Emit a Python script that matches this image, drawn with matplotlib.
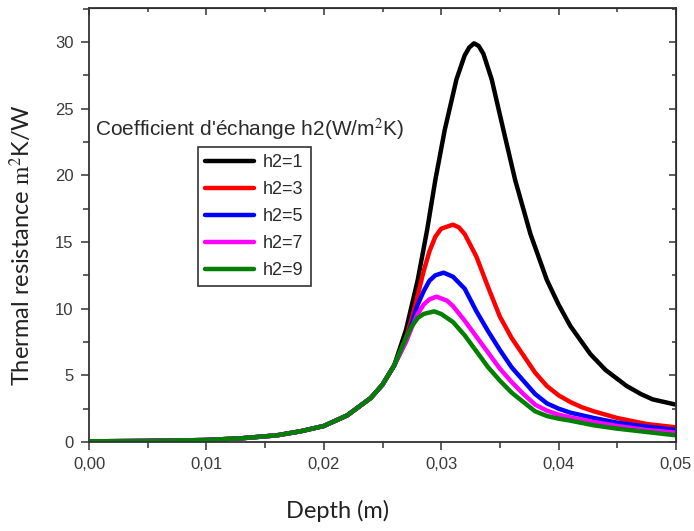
import numpy as np
import matplotlib
matplotlib.use("Agg")
import matplotlib.pyplot as plt
from matplotlib.ticker import MultipleLocator, FuncFormatter

plt.rcParams["mathtext.fontset"] = "stix"

# shared rising part (all curves sit on top of each other here)
base_x = [0.000, 0.005, 0.010, 0.013, 0.016, 0.018, 0.020, 0.022, 0.024, 0.025, 0.026]
base_y = [0.05, 0.08, 0.15, 0.28, 0.50, 0.80, 1.20, 2.00, 3.30, 4.30, 5.75]

# h2 = 1
x1 = [0.027, 0.028, 0.0288, 0.0295, 0.0303, 0.0313, 0.032, 0.0324, 0.0328, 0.0332, 0.0336,
      0.0343, 0.0353, 0.0363, 0.0376, 0.039, 0.040, 0.041, 0.0427, 0.044, 0.0458, 0.047,
      0.048, 0.049, 0.050]
y1 = [8.4, 12.15, 15.9, 19.65, 23.4, 27.2, 29.0, 29.6, 29.9, 29.7, 29.1,
      27.2, 23.4, 19.65, 15.6, 12.15, 10.3, 8.7, 6.6, 5.4, 4.2, 3.6,
      3.2, 3.0, 2.8]
# h2 = 3
x3 = [0.027, 0.0276, 0.028, 0.0285, 0.029, 0.0295, 0.030, 0.031, 0.0315, 0.032, 0.033, 0.034,
      0.035, 0.036, 0.037, 0.038, 0.039, 0.040, 0.041, 0.042, 0.043, 0.045, 0.0475, 0.050]
y3 = [7.8, 9.6, 11.0, 12.8, 14.3, 15.4, 16.0, 16.3, 16.1, 15.6, 13.9, 11.6,
      9.4, 7.8, 6.5, 5.2, 4.2, 3.5, 3.0, 2.6, 2.3, 1.8, 1.35, 1.1]
# h2 = 5
x5 = [0.027, 0.0275, 0.028, 0.0285, 0.029, 0.0295, 0.0302, 0.031, 0.032, 0.033, 0.034, 0.035,
      0.036, 0.037, 0.038, 0.039, 0.040, 0.041, 0.043, 0.045, 0.0475, 0.050]
y5 = [7.6, 8.9, 10.3, 11.3, 12.1, 12.5, 12.7, 12.4, 11.5, 9.8, 8.3, 6.9,
      5.6, 4.6, 3.6, 2.9, 2.5, 2.2, 1.8, 1.45, 1.15, 0.9]
# h2 = 7
x7 = [0.027, 0.0275, 0.028, 0.0285, 0.029, 0.0296, 0.0305, 0.031, 0.032, 0.033, 0.034, 0.035,
      0.036, 0.037, 0.038, 0.039, 0.040, 0.041, 0.043, 0.045, 0.0475, 0.050]
y7 = [7.5, 8.6, 9.6, 10.3, 10.7, 10.9, 10.6, 10.2, 9.1, 7.9, 6.7, 5.5,
      4.5, 3.6, 2.8, 2.35, 2.05, 1.85, 1.5, 1.2, 0.9, 0.7]
# h2 = 9
x9 = [0.0267, 0.027, 0.0275, 0.028, 0.0285, 0.0294, 0.030, 0.031, 0.032, 0.033, 0.034, 0.035,
      0.036, 0.037, 0.038, 0.039, 0.040, 0.041, 0.043, 0.045, 0.0475, 0.050]
y9 = [7.2, 7.8, 8.7, 9.3, 9.6, 9.8, 9.6, 9.0, 8.0, 6.8, 5.6, 4.6,
      3.7, 3.0, 2.3, 1.95, 1.75, 1.6, 1.25, 1.0, 0.75, 0.5]

labels = ["h2=1", "h2=3", "h2=5", "h2=7", "h2=9"]
colors = ["#000000", "#ff0000", "#0000ff", "#ff00ff", "#008000"]
series = [(x1, y1), (x3, y3), (x5, y5), (x7, y7), (x9, y9)]

fig = plt.figure(figsize=(6.94, 5.31), dpi=100)
ax = fig.add_axes([89 / 694, 1 - 442 / 531, 587 / 694, 434 / 531])

for (xs, ys), lab, col in zip(series, labels, colors):
    ax.plot(base_x + xs, base_y + ys, color=col, lw=3.2, label=lab,
            solid_capstyle="round", solid_joinstyle="round")

ax.set_xlim(0, 0.05)
ax.set_ylim(0, 32.55)
ax.xaxis.set_major_locator(MultipleLocator(0.01))
ax.xaxis.set_minor_locator(MultipleLocator(0.005))
ax.yaxis.set_major_locator(MultipleLocator(5))
ax.yaxis.set_minor_locator(MultipleLocator(2.5))
ax.xaxis.set_major_formatter(FuncFormatter(lambda v, p: f"{v:.2f}".replace(".", ",")))
ax.yaxis.set_major_formatter(FuncFormatter(lambda v, p: f"{v:.0f}"))

tick_col = "#3a3a3a"
ax.tick_params(which="major", direction="out", length=6, width=1.1, color="#333333",
               labelsize=12, labelcolor=tick_col, pad=5)
ax.tick_params(which="minor", direction="out", length=4, width=1.1, color="#333333")
for lbl in ax.get_xticklabels() + ax.get_yticklabels():
    lbl.set_fontfamily("Liberation Sans")
for sp in ax.spines.values():
    sp.set_linewidth(1.3)
    sp.set_color("#333333")

# mirrored inward ticks on top and right, as in the original
top = ax.secondary_xaxis("top")
top.xaxis.set_major_locator(MultipleLocator(0.01))
top.xaxis.set_minor_locator(MultipleLocator(0.005))
top.tick_params(which="major", direction="in", length=5, width=1.1, color="#333333", labeltop=False)
top.tick_params(which="minor", direction="in", length=3, width=1.1, color="#333333")
right = ax.secondary_yaxis("right")
right.yaxis.set_major_locator(MultipleLocator(5))
right.yaxis.set_minor_locator(MultipleLocator(2.5))
right.tick_params(which="major", direction="in", length=5, width=1.1, color="#333333", labelright=False)
right.tick_params(which="minor", direction="in", length=3, width=1.1, color="#333333")

ax.set_xlabel("Depth (m)", fontsize=17, family="Lato", color="#222222")
ax.xaxis.set_label_coords((338 - 89) / 587, (442 - 500) / 434)
ax.set_ylabel(r"Thermal resistance $\mathrm{m}^2$K/W", fontsize=17, family="Lato", color="#222222")
ax.yaxis.set_label_coords((34 - 89) / 587, (442 - 245) / 434)

fig.text(95 / 694, 1 - 129 / 531, "Coefficient d'échange h2(W/m$^2$K)", fontsize=15,
         family="Liberation Sans", color="#2a2a2a", va="center", ha="left")

leg = ax.legend(loc="upper left", bbox_to_anchor=((198 - 89) / 587, (442 - 147) / 434),
                prop={"family": "Liberation Sans", "size": 13},
                handlelength=2.7, handletextpad=0.5, labelspacing=0.55,
                borderpad=0.4, fancybox=False, framealpha=1, borderaxespad=0)
leg.get_frame().set_edgecolor("#333333")
leg.get_frame().set_linewidth(1.2)
for t in leg.get_texts():
    t.set_color("#2a2a2a")

fig.savefig("out.png", dpi=100)
